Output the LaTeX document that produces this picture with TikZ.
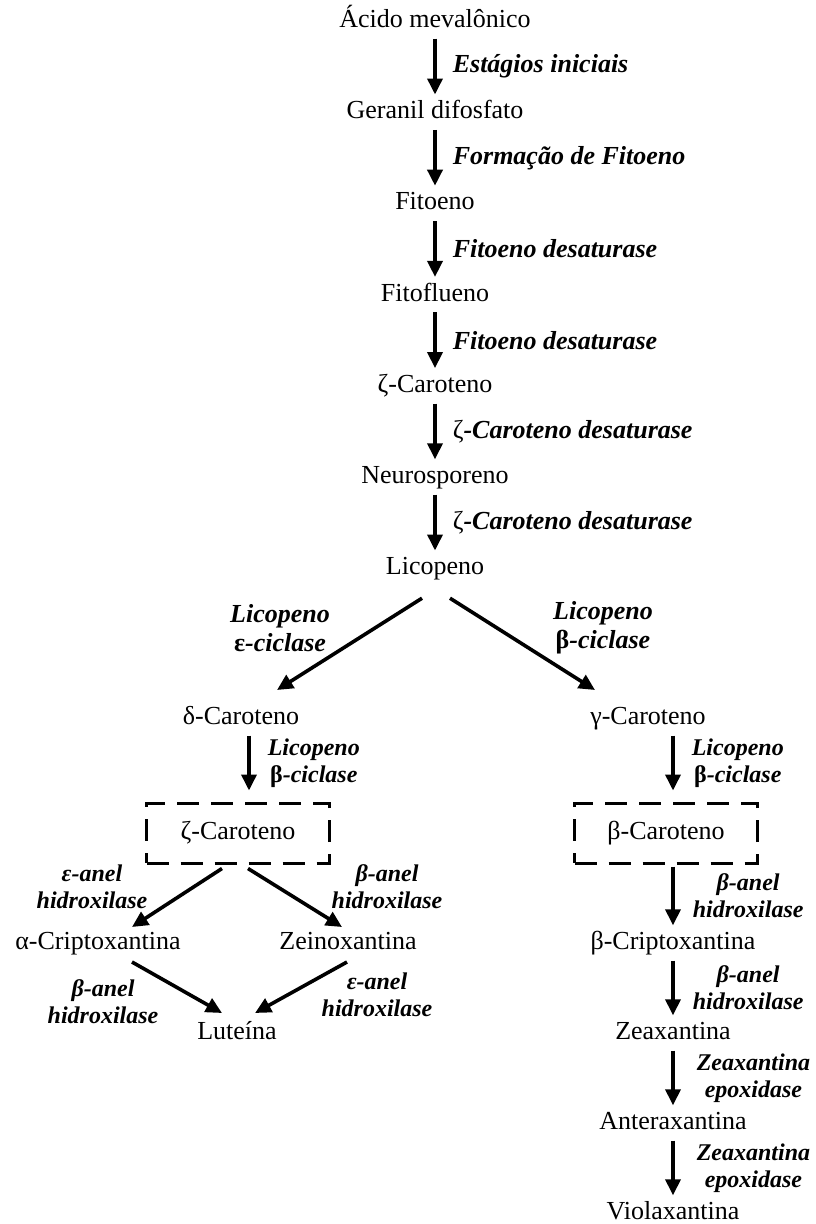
\documentclass[tikz,border=0pt]{standalone}
\usepackage{fontspec}
\setmainfont{Liberation Serif}
\usetikzlibrary{positioning,arrows.meta}
\tikzstyle{compound} = [text height=18pt, text depth=5pt, inner sep=6pt, font=\fontsize{26}{31}\selectfont]
\tikzstyle{enzyme} = [inner sep=2pt, align=center, font=\fontsize{26}{29}\selectfont\bfseries\itshape]
\tikzstyle{subenzyme} = [enzyme, font=\fontsize{24}{27}\selectfont\bfseries\itshape]
\tikzstyle{product} = [compound, draw, line width=3pt, dash pattern=on 22pt off 12pt, minimum width=183pt, minimum height=60pt]
\tikzstyle{reaction} = [line width=3.6pt, -{Triangle[length=16pt,width=15pt]}]

\begin{document}
\begin{tikzpicture}[x=1pt, y=-1pt, node distance=91.2pt]
		\useasboundingbox (0,0) rectangle (815,1224);
		
		% main chain
		\node (acido) [compound] at (435,21) {Ácido mevalônico};
		\node (geranil) [compound, below of=acido] {Geranil difosfato};
		\node (fitoeno) [compound, below of=geranil] {Fitoeno};
		\node (fitoflueno) [compound, below of=fitoeno] {Fitoflueno};
		\node (zeta) [compound, below of=fitoflueno] {ζ-Caroteno};
		\node (neuro) [compound, below of=zeta] {Neurosporeno};
		\node (licopeno) [compound, below of=neuro] {Licopeno};
		
		\draw [reaction] (acido) -- (geranil) node [enzyme, midway, right=14pt] (e1) {Estágios iniciais};
		\draw [reaction] (geranil) -- (fitoeno) node [enzyme, midway, right=14pt] (e2) {Formação de Fitoeno};
		\draw [reaction] (fitoeno) -- (fitoflueno) node [enzyme, midway, right=14pt] (e3) {Fitoeno desaturase};
		\draw [reaction] (fitoflueno) -- (zeta) node [enzyme, midway, right=14pt] (e4) {Fitoeno desaturase};
		\draw [reaction] (zeta) -- (neuro) node [enzyme, midway, right=14pt] (e5) {{\mdseries\upshape ζ}-Caroteno desaturase};
		\draw [reaction] (neuro) -- (licopeno) node [enzyme, midway, right=14pt] (e6) {{\mdseries\upshape ζ}-Caroteno desaturase};
		
		% branches
		\node (delta) [compound] at (241,718) {δ-Caroteno};
		\node (gamma) [compound] at (648,718) {γ-Caroteno};
		\draw [reaction] ([xshift=-13pt,yshift=-30pt]licopeno.center) -- ([xshift=36pt,yshift=28pt]delta.center);
		\draw [reaction] ([xshift=15pt,yshift=-30pt]licopeno.center) -- ([xshift=-53pt,yshift=28pt]gamma.center);
		\node (e7) [enzyme] at (280,628) {Licopeno\\\upshape ε\itshape-ciclase};
		\node (e8) [enzyme] at (603,628) {Licopeno\\\upshape β\itshape-ciclase};
		
		% left side
		\node (zetabox) [product] at (238,833) {ζ-Caroteno};
		\draw [reaction] ([xshift=8pt]delta.south) -- ([xshift=11pt,yshift=11pt]zetabox.north) node [subenzyme, midway, right=15pt] (e9) {Licopeno\\\upshape β\itshape-ciclase};
		
		\node (alpha) [compound] at (98,943) {α-Criptoxantina};
		\node (zein) [compound] at (348,943) {Zeinoxantina};
		\node (luteina) [compound] at (237,1033) {Luteína};
		\draw [reaction] ([xshift=-16pt,yshift=-4pt]zetabox.south) -- ([xshift=34pt,yshift=16pt]alpha.center);
		\draw [reaction] ([xshift=10pt,yshift=-4pt]zetabox.south) -- ([xshift=-6pt,yshift=16pt]zein.center);
		\draw [reaction] ([xshift=34pt,yshift=-19pt]alpha.center) -- ([xshift=-15pt,yshift=20pt]luteina.center);
		\draw [reaction] ([xshift=-1pt,yshift=-19pt]zein.center) -- ([xshift=18pt,yshift=20pt]luteina.center);
		\node (e10) [subenzyme] at (92,887) {ε-anel\\hidroxilase};
		\node (e11) [subenzyme] at (387,887) {β-anel\\hidroxilase};
		\node (e12) [subenzyme] at (103,1002) {β-anel\\hidroxilase};
		\node (e13) [subenzyme] at (377,995) {ε-anel\\hidroxilase};
		
		% right side
		\node (betabox) [product] at (666,833) {β-Caroteno};
		\draw [reaction] ([xshift=25pt]gamma.south) -- ([xshift=7pt,yshift=11pt]betabox.north) node [subenzyme, midway, right=15pt] (e14) {Licopeno\\\upshape β\itshape-ciclase};
		
		\node (betacripto) [compound] at (673,943) {β-Criptoxantina};
		\node (zea) [compound, below of=betacripto, node distance=90pt] {Zeaxantina};
		\node (antera) [compound, below of=zea, node distance=90pt] {Anteraxantina};
		\node (viola) [compound, below of=antera, node distance=90pt] {Violaxantina};
		
		\draw [reaction] ([xshift=7pt,yshift=-2pt]betabox.south) -- (betacripto) node [subenzyme, midway, right=16pt] (e15) {β-anel\\hidroxilase};
		\draw [reaction] (betacripto) -- (zea) node [subenzyme, midway, right=16pt] (e16) {β-anel\\hidroxilase};
		\draw [reaction] (zea) -- (antera) node [subenzyme, midway, right=20pt] (e17) {Zeaxantina\\epoxidase};
		\draw [reaction] (antera) -- (viola) node [subenzyme, midway, right=20pt] (e18) {Zeaxantina\\epoxidase};
		
	\end{tikzpicture}
\end{document}
